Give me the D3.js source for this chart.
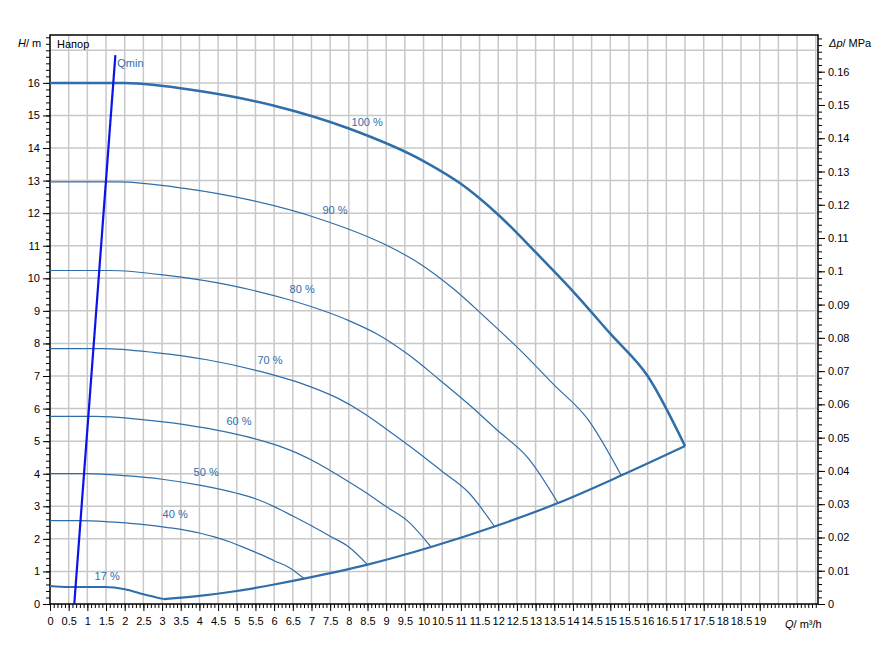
<!DOCTYPE html>
<html><head><meta charset="utf-8">
<script src="https://cdn.jsdelivr.net/npm/d3@7"></script>
<style>body{margin:0;background:#fff;font-family:"Liberation Sans",Arial,sans-serif;}</style>
</head><body><div id="chart"></div>
<script>
// speed curves, Q in m3/h, H in m
const curves = [
    { label: "100 %", q: [0,2,4,6,8,10,11,12,13,14,15,16,17], h: [16.0,16.0,15.75,15.3,14.6,13.6,12.9,11.95,10.8,9.6,8.3,7.0,4.85], lab: [8.49,14.68], w: 2.5 },
    { label: "90 %", q: [0,1.8,3.6,5.4,7.2,9,9.9,10.8,11.7,12.6,13.5,14.4,15.3], h: [12.96,12.96,12.76,12.39,11.83,11.02,10.45,9.68,8.75,7.78,6.72,5.67,3.93], lab: [7.63,11.98], w: 1.2 },
    { label: "80 %", q: [0,1.6,3.2,4.8,6.4,8,8.8,9.6,10.4,11.2,12,12.8,13.6], h: [10.24,10.24,10.08,9.79,9.34,8.70,8.26,7.65,6.91,6.14,5.31,4.48,3.10], lab: [6.75,9.55], w: 1.2 },
    { label: "70 %", q: [0,1.4,2.8,4.2,5.6,7,7.7,8.4,9.1,9.8,10.5,11.2,11.9], h: [7.84,7.84,7.72,7.50,7.15,6.66,6.32,5.86,5.29,4.70,4.07,3.43,2.38], lab: [5.89,7.37], w: 1.2 },
    { label: "60 %", q: [0,1.2,2.4,3.6,4.8,6,6.6,7.2,7.8,8.4,9,9.6,10.2], h: [5.76,5.76,5.67,5.51,5.26,4.90,4.64,4.30,3.89,3.46,2.99,2.52,1.75], lab: [5.06,5.5], w: 1.2 },
    { label: "50 %", q: [0,1,2,3,4,5,5.5,6,6.5,7,7.5,8,8.5], h: [4.0,4.0,3.94,3.83,3.65,3.40,3.23,2.99,2.70,2.40,2.08,1.75,1.21], lab: [4.18,3.93], w: 1.2 },
    { label: "40 %", q: [0,0.8,1.6,2.4,3.2,4,4.4,4.8,5.2,5.6,6,6.4,6.8], h: [2.56,2.56,2.52,2.45,2.34,2.18,2.06,1.91,1.73,1.54,1.33,1.12,0.78], lab: [3.35,2.64], w: 1.2 },
    { label: "17 %", q: [0,0.5,1,1.5,2,2.5,3.05], h: [0.55,0.52,0.52,0.52,0.45,0.3,0.15], lab: [1.53,0.74], w: 2 }
];
// lower limit curve
const limitQ = [3.05,4,5,6,6.8,8.5,10.2,11.9,13.6,15.3,17];
const limitH = [0.15,0.25,0.4,0.6,0.78,1.21,1.75,2.38,3.1,3.95,4.85];
// Qmin line
const qminQ = [0.65,1.75];
const qminH = [0,16.85];
const xTicks = d3.range(0, 19.01, 0.5);
const yTicks = d3.range(0, 17, 1);
const pTicks = d3.range(0, 0.1601, 0.01);

const width = 884, height = 666;
const mLeft = 50, mRight = 818, mTop = 35, mBottom = 604;
const color = "#2f6ea8";

const x = d3.scaleLinear().domain([0, 20.56]).range([mLeft, mRight]);
const y = d3.scaleLinear().domain([0, 17.47]).range([mBottom, mTop]);
const yp = d3.scaleLinear().domain([0, 17.47 * 0.00979]).range([mBottom, mTop]);

const svg = d3.select("#chart").append("svg").attr("width", width).attr("height", height)
    .style("font-family", "'Liberation Sans', Arial, sans-serif").style("font-size", "11px");

//grid
svg.append("g").selectAll("line").data(d3.range(0.5, 20.51, 0.5)).join("line")
    .attr("x1", d => x(d)).attr("x2", d => x(d)).attr("y1", mTop).attr("y2", mBottom)
    .attr("stroke", "#c8c8c8").attr("stroke-width", 1.5);
svg.append("g").selectAll("line").data(d3.range(1, 17.1, 1)).join("line")
    .attr("x1", mLeft).attr("x2", mRight).attr("y1", d => y(d)).attr("y2", d => y(d))
    .attr("stroke", "#c8c8c8").attr("stroke-width", 1.5);

svg.append("rect").attr("x", mLeft).attr("y", mTop).attr("width", mRight - mLeft).attr("height", mBottom - mTop)
    .attr("fill", "none").attr("stroke", "#000").attr("stroke-width", 1.5);

//axes
const fmt = d => String(+d.toFixed(2));
svg.append("g").attr("transform", `translate(0,${mBottom})`)
    .call(d3.axisBottom(x).tickValues(d3.range(0, 20.51, 0.1)).tickSize(4).tickFormat(""))
    .call(g => g.select(".domain").remove());
svg.append("g").attr("transform", `translate(0,${mBottom})`)
    .call(d3.axisBottom(x).tickValues(xTicks).tickSize(7).tickFormat(fmt))
    .call(g => g.select(".domain").remove())
    .call(g => g.selectAll("text").attr("dy", "1em").attr("font-size", 11));
svg.append("g").attr("transform", `translate(${mLeft},0)`)
    .call(d3.axisLeft(y).tickValues(d3.range(0, 17.41, 0.2)).tickSize(4).tickFormat(""))
    .call(g => g.select(".domain").remove());
svg.append("g").attr("transform", `translate(${mLeft},0)`)
    .call(d3.axisLeft(y).tickValues(yTicks).tickSize(7).tickFormat(fmt))
    .call(g => g.select(".domain").remove())
    .call(g => g.selectAll("text").attr("font-size", 11));
svg.append("g").attr("transform", `translate(${mRight},0)`)
    .call(d3.axisRight(yp).tickValues(d3.range(0, 0.1701, 0.002)).tickSize(4).tickFormat(""))
    .call(g => g.select(".domain").remove());
svg.append("g").attr("transform", `translate(${mRight},0)`)
    .call(d3.axisRight(yp).tickValues(pTicks).tickSize(7).tickFormat(fmt))
    .call(g => g.select(".domain").remove())
    .call(g => g.selectAll("text").attr("font-size", 11));

//titles
const hT = svg.append("text").attr("x", 18).attr("y", 47);
hT.append("tspan").attr("font-style", "italic").text("H");
hT.append("tspan").text("/ m");
svg.append("text").attr("x", 57).attr("y", 48).text("Напор");
const pT = svg.append("text").attr("x", 829).attr("y", 47);
pT.append("tspan").attr("font-style", "italic").text("Δp");
pT.append("tspan").text("/ MPa");
const qT = svg.append("text").attr("x", 785).attr("y", 628);
qT.append("tspan").attr("font-style", "italic").text("Q");
qT.append("tspan").text("/ m³/h");

//curves
const line = d3.line().x(d => x(d[0])).y(d => y(d[1])).curve(d3.curveMonotoneX);
curves.forEach(c => {
    svg.append("path").attr("d", line(c.q.map((q, i) => [q, c.h[i]])))
        .attr("fill", "none").attr("stroke", color).attr("stroke-width", c.w);
    svg.append("text").attr("x", x(c.lab[0])).attr("y", y(c.lab[1])).attr("text-anchor", "middle")
        .attr("fill", color).attr("font-size", 11).text(c.label);
});
svg.append("path").attr("d", line(limitQ.map((q, i) => [q, limitH[i]])))
    .attr("fill", "none").attr("stroke", color).attr("stroke-width", 2.2);

svg.append("path").attr("d", d3.line().x(d => x(d[0])).y(d => y(d[1]))(qminQ.map((q, i) => [q, qminH[i]])))
    .attr("stroke", "#0a14e6").attr("stroke-width", 2.2);
svg.append("text").attr("x", x(1.8)).attr("y", y(16.5)).attr("fill", color).attr("font-size", 11).text("Qmin");
</script></body></html>
